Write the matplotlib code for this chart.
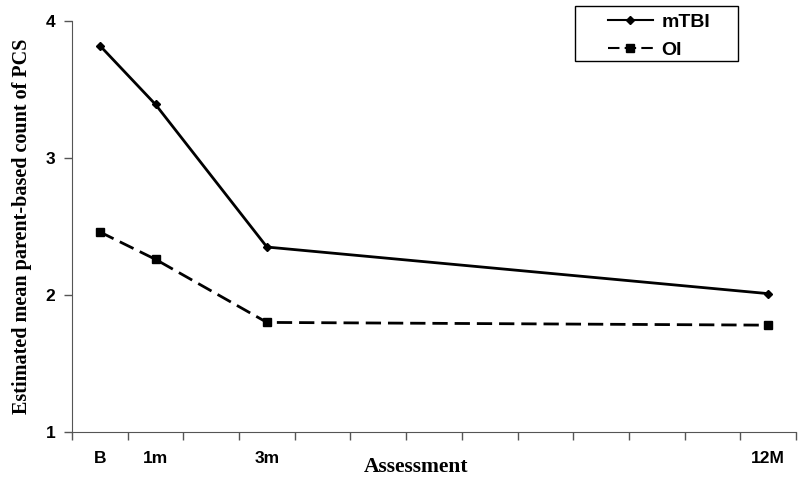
import numpy as np
import matplotlib.pyplot as plt
from matplotlib.patches import Rectangle

# Assessment time points (x positions are category slots 0..12, centred)
labels = ['B', '1m', '3m', '12M']
slots = [0, 1, 3, 12]
mtbi = [3.82, 3.39, 2.35, 2.01]
oi = [2.46, 2.26, 1.80, 1.78]

x = np.array(slots) + 0.5

fig = plt.figure(figsize=(8, 4.86), dpi=100)
ax = fig.add_axes([0.09, 0.111, 0.905, 0.846])

ax.plot(x, mtbi, color='black', lw=2, marker='D', ms=4, label='mTBI')
ax.plot(x, oi, color='black', lw=2, ls=(0, (5.5, 2.5)), marker='s', ms=5.5,
        label='OI')

ax.set_xlim(0, 13)
ax.set_ylim(1, 4)
ax.set_yticks([1, 2, 3, 4])
ax.set_xticks(np.arange(0, 14))
ax.set_xticklabels([])
ax.set_xticks(x, minor=True)
ax.set_xticklabels(labels, minor=True)
ax.tick_params(axis='x', which='minor', length=0, pad=14)
ax.tick_params(axis='both', which='major', length=6, width=1, color='#555555')
for lab in ax.get_xticklabels(minor=True) + ax.get_yticklabels():
    lab.set_fontweight('bold')
    lab.set_fontsize(12.5)
    lab.set_fontfamily('Liberation Sans')
ax.tick_params(axis='y', pad=6)

for s in ['top', 'right']:
    ax.spines[s].set_visible(False)
for s in ['left', 'bottom']:
    ax.spines[s].set_color('#555555')

ax.set_ylabel('Estimated mean parent-based count of PCS', fontsize=14.5,
              fontweight='bold', family='Liberation Serif', labelpad=10)
fig.text(0.52, 0.04, 'Assessment', ha='center', va='center', fontsize=15.5,
         fontweight='bold', family='Liberation Serif')

# legend box drawn separately so the padding matches the original
fig.patches.append(Rectangle((575 / 800, 1 - 61 / 486), 163 / 800, 55 / 486,
                             transform=fig.transFigure, fill=False,
                             edgecolor='black', lw=1))
leg = ax.legend(loc='upper left', bbox_to_anchor=(608 / 800, 1 - 13 / 486),
                bbox_transform=fig.transFigure, frameon=False,
                handlelength=2.3, handletextpad=0.45, borderpad=0,
                labelspacing=0.55, borderaxespad=0,
                prop={'family': 'Liberation Sans', 'weight': 'bold', 'size': 14})
for h in leg.get_lines():
    h.set_linewidth(1.5)

fig.savefig('out.png', dpi=100)
